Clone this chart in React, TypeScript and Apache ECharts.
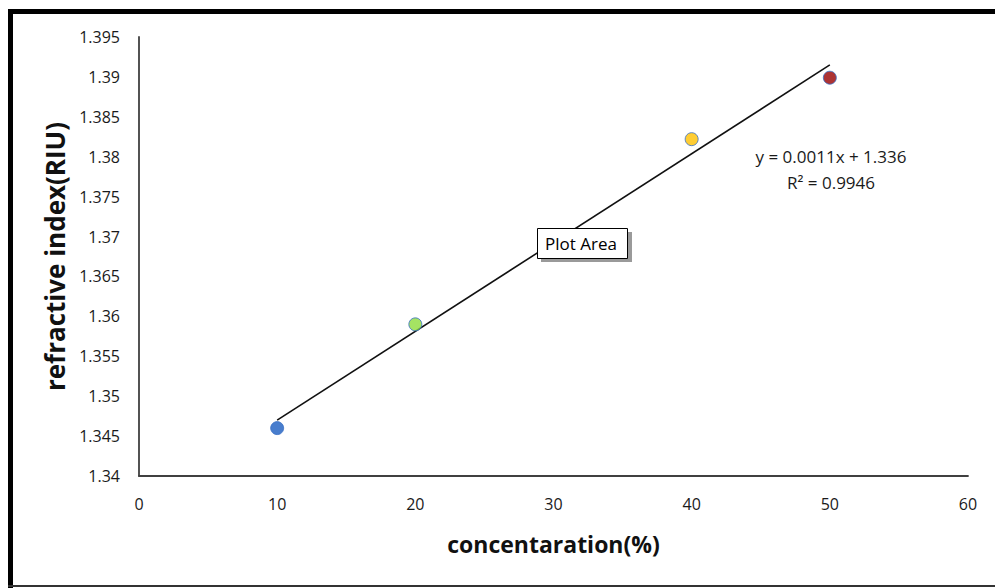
import React, { useEffect, useRef } from "react";
import * as echarts from "echarts";

const concentration = [10, 20, 40, 50];
const refractiveIndex = [1.346, 1.359, 1.3822, 1.3899];
const pointColors = ["#1A5CC0", "#8FDC3C", "#FFC000", "#990000"];
const trendX = [10, 50];
const trendY = [1.347, 1.3915];
const equationText = "y = 0.0011x + 1.336";
const r2Text = "R² = 0.9946";

export default function App() {
  const ref = useRef<HTMLDivElement>(null);
  useEffect(() => {
    if (!ref.current) return;
    const chart = echarts.init(ref.current, null, { renderer: "svg" });
    const font = "'Open Sans', 'Noto Sans', sans-serif";
    chart.setOption({
      animation: false,
      backgroundColor: "#ffffff",
      grid: { left: 139, top: 37, right: 27, bottom: 112, containLabel: false },
      xAxis: {
        type: "value",
        min: 0,
        max: 60,
        interval: 10,
        name: "concentaration(%)",
        nameLocation: "middle",
        nameGap: 56,
        nameTextStyle: { fontSize: 23, fontWeight: "bold", color: "#111", fontFamily: font },
        axisLine: { lineStyle: { color: "#404040", width: 1.8 } },
        axisTick: { show: false },
        splitLine: { show: false },
        axisLabel: { fontSize: 16, color: "#1a1a1a", margin: 20, fontFamily: font },
      },
      yAxis: {
        type: "value",
        min: 1.34,
        max: 1.395,
        interval: 0.005,
        name: "refractive index(RIU)",
        nameLocation: "middle",
        nameGap: 64,
        nameTextStyle: { fontSize: 26, fontWeight: "bold", color: "#111", fontFamily: font },
        axisLine: { show: true, lineStyle: { color: "#404040", width: 1.8 } },
        axisTick: { show: false },
        splitLine: { show: false },
        axisLabel: {
          fontSize: 16,
          color: "#1a1a1a",
          margin: 19,
          fontFamily: font,
          formatter: (v: number) => parseFloat(v.toFixed(3)).toString(),
        },
      },
      series: [
        {
          type: "line",
          data: trendX.map((x, i) => [x, trendY[i]]),
          showSymbol: false,
          symbol: "none",
          lineStyle: { color: "#111111", width: 1.6 },
          z: 2,
        },
        {
          type: "scatter",
          symbolSize: 13,
          data: concentration.map((x, i) => ({
            value: [x, refractiveIndex[i]],
            itemStyle: { color: pointColors[i], borderColor: "#3A6FC4", borderWidth: 1 },
          })),
          z: 3,
        },
      ],
      graphic: [
        { type: "rect", shape: { x: 8, y: 9, width: 1000, height: 5 }, style: { fill: "#000" }, silent: true },
        { type: "rect", shape: { x: 8, y: 9, width: 5, height: 580 }, style: { fill: "#000" }, silent: true },
        { type: "rect", shape: { x: 8, y: 585, width: 1000, height: 2 }, style: { fill: "#333" }, silent: true },
        {
          type: "text",
          x: 831,
          y: 156,
          style: { text: equationText, fontSize: 17, fill: "#1a1a1a", align: "center", verticalAlign: "middle", fontFamily: font },
        },
        {
          type: "text",
          x: 831,
          y: 182,
          style: { text: r2Text, fontSize: 17, fill: "#1a1a1a", align: "center", verticalAlign: "middle", fontFamily: font },
        },
        { type: "rect", shape: { x: 541, y: 232, width: 91, height: 30 }, style: { fill: "#9a9a9a" }, z: 10 },
        { type: "rect", shape: { x: 537.5, y: 228.5, width: 90, height: 30 }, style: { fill: "#fff", stroke: "#000", lineWidth: 1 }, z: 11 },
        {
          type: "text",
          x: 581,
          y: 243,
          z: 12,
          style: { text: "Plot Area", fontSize: 17, fill: "#000", align: "center", verticalAlign: "middle", fontFamily: font },
        },
      ],
    });
    return () => chart.dispose();
  }, []);
  return <div ref={ref} style={{ position: "fixed", left: 0, top: 0, width: 995, height: 588 }} />;
}
